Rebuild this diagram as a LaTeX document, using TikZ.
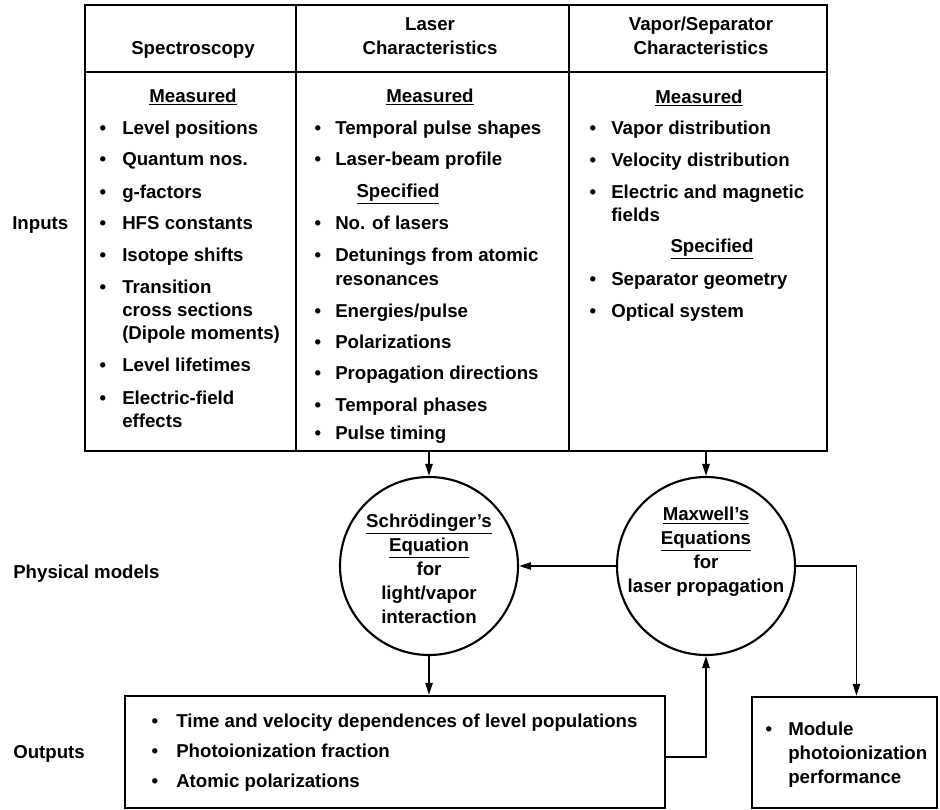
\documentclass[tikz,border=0pt]{standalone}
\usepackage{fontspec}
\setmainfont{Liberation Sans}
\usetikzlibrary{arrows.meta}

\tikzset{
  every node/.style={font=\fontsize{14}{18}\selectfont\bfseries},
  txt/.style={anchor=base west, inner sep=0pt, yshift=-5pt},
  bul/.style={anchor=base, inner sep=0pt, yshift=-5pt},
  hd/.style={anchor=base, inner sep=0pt, yshift=-5pt},
  frame/.style={line width=1.6pt},
  box/.style={draw, line width=1.6pt, inner sep=0pt},
  eq/.style={draw, circle, line width=1.6pt, minimum size=133.5pt, inner sep=0pt},
  arr/.style={line width=1.3pt, -{Triangle[length=9pt,width=5.5pt]}}
}

\begin{document}
\begin{tikzpicture}[x=0.75pt, y=-0.75pt]
  \useasboundingbox (0,0) rectangle (940,810);

  % Input table
  \draw[frame] (85,5) rectangle (827,451);
  \draw[frame] (85,72) -- (827,72);
  \draw[frame] (296,5) -- (296,451);
  \draw[frame] (569,5) -- (569,451);
  \coordinate (laserBot) at (429,451);
  \coordinate (vaporBot) at (706,451);

  % Column heads
  \node[hd] (hSpec) at (193,48) {Spectroscopy};
  \node[align=center] (hLaser) at (430,36) {Laser\\Characteristics};
  \node[align=center] (hVapor) at (701,36) {Vapor/Separator\\Characteristics};

  % Spectroscopy column
  \node[hd] (mSpec) at (193,96) {\underline{Measured}};
  \foreach \y in {128,159,192,223,255,287,365,398}
    \node[bul] (sb\y) at (103,\y) {•};
  \foreach \y/\t in {128/Level positions, 159/Quantum nos., 192/g-factors,
      223/HFS constants, 255/Isotope shifts, 287/Transition, 310/cross sections,
      333/(Dipole moments), 365/Level lifetimes, 398/Electric-field, 421/effects}
    \node[txt] (st\y) at (122,\y) {\t};

  % Laser column
  \node[hd] (mLaser) at (430,96) {\underline{Measured}};
  \node[hd] (sLaser) at (398,191) {\underline{Specified}};
  \foreach \y in {128,159,223,255,311,342,373,405,433}
    \node[bul] (lb\y) at (318,\y) {•};
  \foreach \y/\t in {128/Temporal pulse shapes, 159/Laser-beam profile,
      223/No. of lasers, 255/Detunings from atomic, 279/resonances,
      311/{Energies/pulse}, 342/Polarizations, 373/Propagation directions,
      405/Temporal phases, 433/Pulse timing}
    \node[txt] (lt\y) at (335,\y) {\t};

  % Vapor/separator column
  \node[hd] (mVapor) at (699,97) {\underline{Measured}};
  \node[hd] (sVapor) at (712,246) {\underline{Specified}};
  \foreach \y in {128,160,192,279,311}
    \node[bul] (vb\y) at (593,\y) {•};
  \foreach \y/\t in {128/Vapor distribution, 160/Velocity distribution,
      192/Electric and magnetic, 215/fields, 279/Separator geometry,
      311/Optical system}
    \node[txt] (vt\y) at (611,\y) {\t};

  % Physical models
  \node[eq] (schr) at (429,566) {};
  \node[align=center] (schrT) at (429,569)
    {\underline{Schrödinger's}\\\underline{Equation}\\for\\light/vapor\\interaction};
  \node[eq] (maxw) at (706,566) {};
  \node[align=center] (maxwT) at (706,552)
    {\underline{Maxwell's}\\\underline{Equations}\\for\\laser propagation};

  % Outputs
  \node[box, minimum width=405pt, minimum height=84pt] (outbox) at (395,752) {};
  \foreach \y/\t in {721/Time and velocity dependences of level populations,
      751/Photoionization fraction, 781/Atomic polarizations} {
    \node[bul] (ob\y) at (155,\y) {•};
    \node[txt] (ot\y) at (176,\y) {\t};
  }
  \node[box, minimum width=138.75pt, minimum height=83.25pt] (perf) at (844.5,752.5) {};
  \node[bul] (pb) at (769,729) {•};
  \node[txt] (pt1) at (788,729) {Module};
  \node[txt] (pt2) at (788,753) {photoionization};
  \node[txt] (pt3) at (788,777) {performance};

  % Row labels
  \node[txt] (lIn) at (12,223) {Inputs};
  \node[txt] (lMod) at (13,572) {Physical models};
  \node[txt] (lOut) at (13,752) {Outputs};

  % Connectors
  \draw[arr] (laserBot) -- (schr);
  \draw[arr] (vaporBot) -- (maxw);
  \draw[arr] (maxw) -- (schr);
  \draw[arr] (schr) -- (schr |- outbox.north);
  \draw[arr] ([yshift=-4pt]outbox.east) -| (maxw);
  \draw[arr] (maxw) -| ([xshift=9pt]perf.north);
\end{tikzpicture}
\end{document}
